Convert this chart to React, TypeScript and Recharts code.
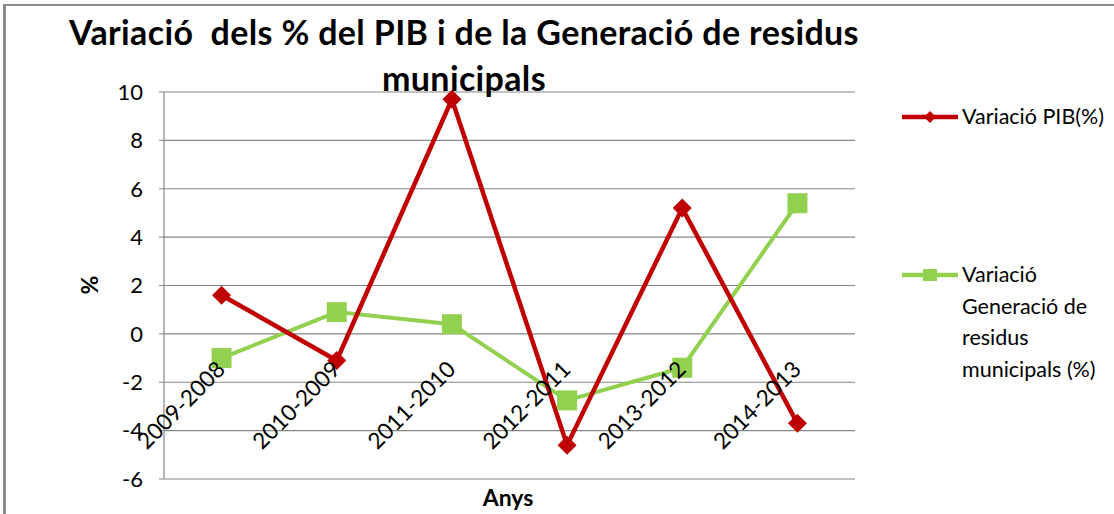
import { LineChart, Line, XAxis, YAxis, CartesianGrid, LabelList } from "recharts";

const periods = ["2009-2008", "2010-2009", "2011-2010", "2012-2011", "2013-2012", "2014-2013"];
const pibVariation = [1.6, -1.1, 9.7, -4.6, 5.2, -3.7];
const wasteVariation = [-1.0, 0.9, 0.4, -2.75, -1.4, 5.4];
const yTicks = [-6, -4, -2, 0, 2, 4, 6, 8, 10];
const titleLines = ["Variació  dels % del PIB i de la Generació de residus", "municipals"];

const RED = "#C00000";
const GREEN = "#92D050";
const GRID = "#868686";

const chartData = periods.map((period, i) => ({
  period,
  pib: pibVariation[i],
  waste: wasteVariation[i],
}));

function renderDiamond(props: any) {
  const { cx, cy, index } = props;
  if (cx == null || cy == null) return <g key={`d-${index}`} />;
  const r = 9.5;
  return (
    <path
      key={`d-${index}`}
      d={`M${cx},${cy - r}L${cx + r},${cy}L${cx},${cy + r}L${cx - r},${cy}Z`}
      fill={RED}
    />
  );
}

function renderSquare(props: any) {
  const { cx, cy, index } = props;
  if (cx == null || cy == null) return <g key={`s-${index}`} />;
  const h = 10;
  return <rect key={`s-${index}`} x={cx - h} y={cy - h} width={h * 2} height={h * 2} fill={GREEN} />;
}

// category labels hang just below the 0 line, like Excel's "next to axis"
function renderPeriodLabel(props: any) {
  const { x, y, value, index } = props;
  const ax = x + 5;
  const ay = y + 37;
  return (
    <text
      key={`p-${index}`}
      x={ax}
      y={ay}
      textAnchor="end"
      fontSize={22.5}
      fill="#000"
      transform={`rotate(-45 ${ax} ${ay})`}
    >
      {value}
    </text>
  );
}

const legendItems = [
  { name: "Variació PIB(%)", color: RED, marker: "diamond", top: 101 },
  { name: "Variació Generació de residus municipals (%)", color: GREEN, marker: "square", top: 259 },
];

function LegendMarker({ color, marker }: { color: string; marker: string }) {
  return (
    <svg width={56} height={20} style={{ display: "block" }}>
      <line x1={0} y1={10} x2={56} y2={10} stroke={color} strokeWidth={4.5} />
      {marker === "diamond" ? (
        <path d="M28,4L34,10L28,16L22,10Z" fill={color} />
      ) : (
        <rect x={21} y={4} width={14} height={12} fill={color} />
      )}
    </svg>
  );
}

export default function App() {
  return (
    <div style={{ position: "relative", width: 1114, height: 514, fontFamily: "Lato", background: "#fff", overflow: "hidden" }}>
      <style>{"body{margin:0}"}</style>
      <div
        style={{
          position: "absolute",
          left: 3,
          top: 4,
          width: 1114,
          height: 514,
          borderLeft: "3px solid #8c8c8c",
          borderTop: "2px solid #8c8c8c",
        }}
      />
      <LineChart
        width={1114}
        height={514}
        data={chartData}
        margin={{ top: 92, right: 259, bottom: 35, left: 0 }}
        style={{ position: "absolute", left: 0, top: 0 }}
      >
        <CartesianGrid vertical={false} stroke={GRID} strokeWidth={1.2} />
        <XAxis dataKey="period" scale="band" hide />
        <YAxis
          width={164}
          domain={[-6, 10]}
          ticks={yTicks}
          interval={0}
          axisLine={{ stroke: GRID, strokeWidth: 1.2 }}
          tickLine={{ stroke: GRID }}
          tickSize={5}
          tickMargin={16}
          tick={{ fontSize: 22, fill: "#000" }}
        />
        <Line
          dataKey={() => 0}
          stroke="none"
          dot={false}
          activeDot={false}
          legendType="none"
          isAnimationActive={false}
        >
          <LabelList dataKey="period" content={renderPeriodLabel} />
        </Line>
        <Line
          dataKey="waste"
          name="Variació Generació de residus municipals (%)"
          stroke={GREEN}
          strokeWidth={4}
          dot={renderSquare}
          activeDot={false}
          isAnimationActive={false}
        />
        <Line
          dataKey="pib"
          name="Variació PIB(%)"
          stroke={RED}
          strokeWidth={4.5}
          dot={renderDiamond}
          activeDot={false}
          isAnimationActive={false}
        />
      </LineChart>

      <div
        style={{
          position: "absolute",
          left: 0,
          top: 9,
          width: 928,
          textAlign: "center",
          fontSize: 34,
          fontWeight: 700,
          letterSpacing: 0.35,
          lineHeight: "46px",
          whiteSpace: "pre",
          color: "#000",
        }}
      >
        {titleLines.map((l) => (
          <div key={l}>{l}</div>
        ))}
      </div>

      <div
        style={{
          position: "absolute",
          left: 89,
          top: 285,
          transform: "translate(-50%, -50%) rotate(-90deg)",
          fontSize: 23,
          fontWeight: 700,
          color: "#000",
        }}
      >
        %
      </div>
      <div
        style={{
          position: "absolute",
          left: 508,
          top: 497,
          transform: "translate(-50%, -50%)",
          fontSize: 23,
          fontWeight: 700,
          color: "#000",
        }}
      >
        Anys
      </div>

      {legendItems.map((item) => (
        <div key={item.name}>
          <div style={{ position: "absolute", left: 902, top: item.top + 6 }}>
            <LegendMarker color={item.color} marker={item.marker} />
          </div>
          <div
            style={{
              position: "absolute",
              left: 962,
              top: item.top,
              width: 152,
              fontSize: 21.5,
              lineHeight: "31.5px",
              color: "#000",
            }}
          >
            {item.name}
          </div>
        </div>
      ))}
    </div>
  );
}
